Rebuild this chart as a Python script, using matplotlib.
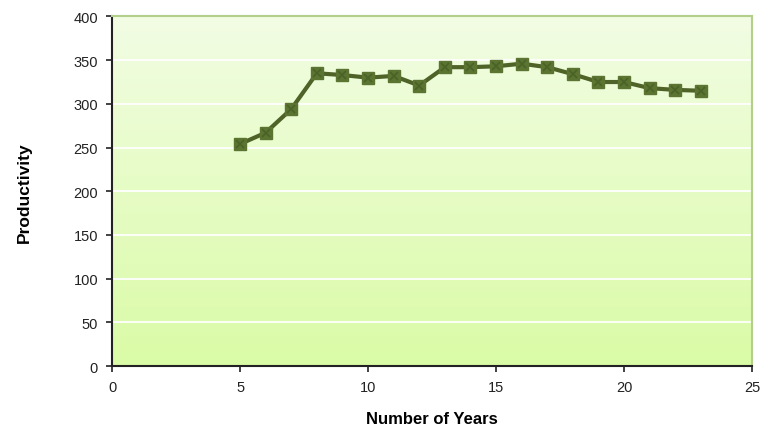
import numpy as np
import matplotlib
matplotlib.use("Agg")
import matplotlib.pyplot as plt
from matplotlib.colors import LinearSegmentedColormap

plt.rcParams["font.family"] = ["Liberation Sans", "DejaVu Sans"]

years = [5, 6, 7, 8, 9, 10, 11, 12, 13, 14, 15, 16, 17, 18, 19, 20, 21, 22, 23]
productivity = [254, 267, 294, 335, 333, 330, 332, 321, 342, 342, 343, 346, 342, 334, 325, 325, 318, 316, 315]

fig = plt.figure(figsize=(7.73, 4.35), dpi=100)
ax = fig.add_axes([0.1449, 0.1563, 0.828, 0.8035])

# vertical gradient background
grad = LinearSegmentedColormap.from_list("bg", ["#dafba6", "#f2fde4"])
ax.imshow(np.linspace(0, 1, 256).reshape(-1, 1), cmap=grad, origin="lower",
          extent=[0, 25, 0, 400], aspect="auto", zorder=0)

ax.set_xlim(0, 25)
ax.set_ylim(0, 400)
ax.set_xticks(range(0, 26, 5))
ax.set_yticks(range(0, 401, 50))
ax.yaxis.grid(True, color="white", linewidth=1.3, zorder=1)
ax.set_axisbelow(True)

ax.plot(years, productivity, color="#4f6228", linewidth=3, zorder=3)
ax.plot(years, productivity, linestyle="none", marker="s", markersize=8,
        markerfacecolor="#5b7432", markeredgecolor="#5b7432", zorder=4)
ax.plot(years, productivity, linestyle="none", marker="x", markersize=6,
        markeredgecolor="#4a6226", markeredgewidth=1.2, zorder=5)

for side in ("left", "bottom"):
    ax.spines[side].set_color("#222222")
    ax.spines[side].set_linewidth(1.5)
for side in ("top", "right"):
    ax.spines[side].set_color("#b4cf8a")
    ax.spines[side].set_linewidth(1.5)

ax.tick_params(axis="both", labelsize=10.5, color="#222222", length=4, width=1.2,
               labelcolor="#222222")
ax.tick_params(axis="y", pad=6)
ax.tick_params(axis="x", pad=6)
ax.set_xlabel("Number of Years", fontsize=12, fontweight="bold", labelpad=12)
ax.set_ylabel("Productivity", fontsize=12.5, fontweight="bold", labelpad=30)

fig.savefig("out.png", dpi=100, facecolor="white")
